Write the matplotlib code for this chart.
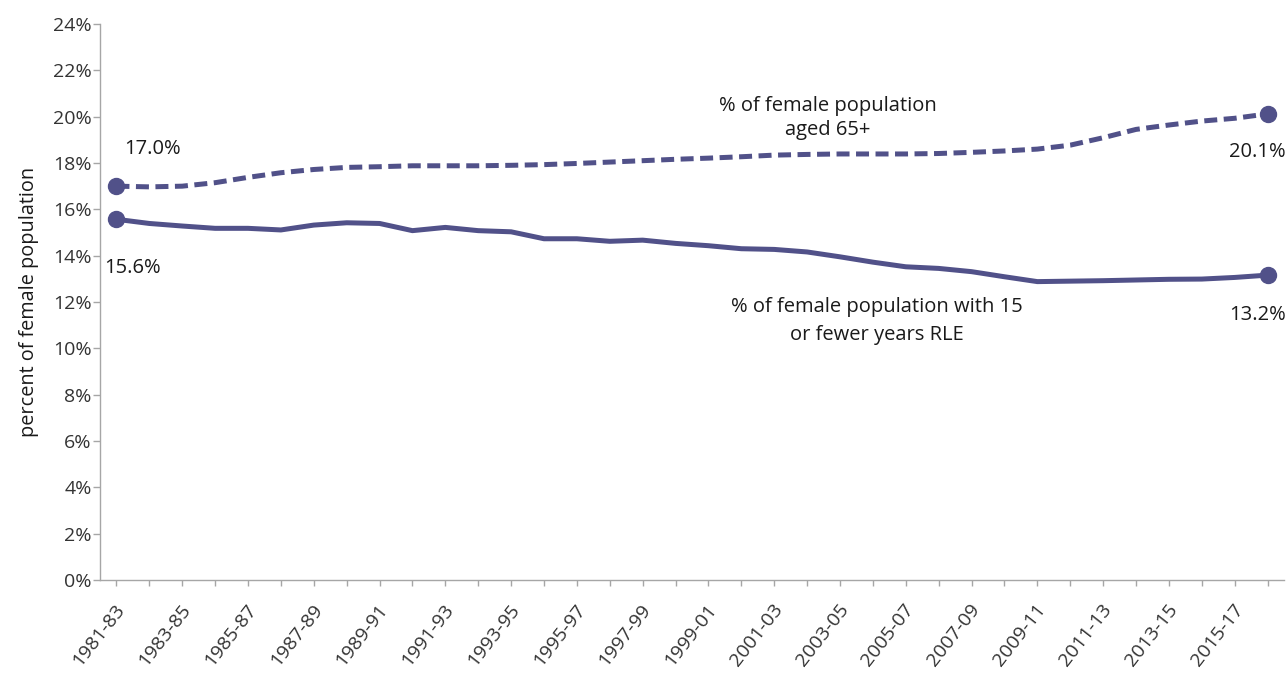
import matplotlib
matplotlib.use("Agg")
import matplotlib.pyplot as plt
from matplotlib.transforms import ScaledTranslation

plt.rcParams['font.family'] = ['Open Sans', 'DejaVu Sans']

periods = [f"{y}-{str(y + 2)[-2:]}" for y in range(1981, 2017)]

aged65 = [17.0, 16.97, 17.0, 17.15, 17.38, 17.58, 17.72, 17.81, 17.84, 17.88,
          17.88, 17.88, 17.9, 17.93, 17.98, 18.04, 18.1, 18.16, 18.21, 18.27,
          18.34, 18.37, 18.39, 18.39, 18.39, 18.41, 18.46, 18.52, 18.6, 18.77,
          19.09, 19.45, 19.64, 19.81, 19.93, 20.12]

rle15 = [15.57, 15.39, 15.28, 15.18, 15.18, 15.11, 15.32, 15.42, 15.39, 15.08,
         15.22, 15.08, 15.03, 14.73, 14.73, 14.62, 14.67, 14.53, 14.43, 14.3,
         14.27, 14.16, 13.95, 13.72, 13.52, 13.45, 13.31, 13.09, 12.88, 12.9,
         12.92, 12.95, 12.98, 12.99, 13.06, 13.16]

color = '#515189'
text_color = '#1a1a1a'
axis_color = '#A6A6A6'

fig = plt.figure(figsize=(12.88, 6.73), dpi=100)
ax = fig.add_axes([100 / 1288, 93 / 673, 1184 / 1288, 556 / 673])

x = list(range(len(periods)))
ax.plot(x, aged65, color=color, lw=3.6, dashes=(2.6, 1.3), dash_capstyle='butt',
        zorder=3)
ax.plot(x, rle15, color=color, lw=3.6, solid_joinstyle='round', zorder=3)
ax.plot([x[0], x[-1]], [aged65[0], aged65[-1]], 'o', color=color, ms=11.5, zorder=4)
ax.plot([x[0], x[-1]], [rle15[0], rle15[-1]], 'o', color=color, ms=11.5, zorder=4)

ax.set_xlim(-0.5, len(periods) - 0.5)
ax.set_ylim(0, 24)
ax.set_yticks(range(0, 25, 2))
ax.set_yticklabels([f"{v}%" for v in range(0, 25, 2)])
ax.set_xticks(x)
ax.set_xticklabels([p if i % 2 == 0 else '' for i, p in enumerate(periods)],
                   rotation=52, ha='right', va='center', rotation_mode='anchor')

for s in ['top', 'right']:
    ax.spines[s].set_visible(False)
for s in ['left', 'bottom']:
    ax.spines[s].set_color(axis_color)
    ax.spines[s].set_linewidth(1.0)
ax.tick_params(axis='y', length=5, width=1, color=axis_color, labelsize=14,
               labelcolor='#333333', pad=1)
ax.tick_params(axis='x', length=4, width=1, color=axis_color, labelsize=14,
               labelcolor='#333333', pad=15)
offset = ScaledTranslation(5 / 100, 0, fig.dpi_scale_trans)
for lab in ax.get_xticklabels():
    lab.set_transform(lab.get_transform() + offset)
ax.set_ylabel('percent of female population', fontsize=14.3, color=text_color, labelpad=10)

fs = 14.5
ax.text(1.09, 18.62, f"{aged65[0]:.1f}%", ha='center', va='center', fontsize=fs, color=text_color)
ax.text(0.49, 13.45, f"{rle15[0]:.1f}%", ha='center', va='center', fontsize=fs, color=text_color)
ax.text(34.7, 18.47, f"{aged65[-1]:.1f}%", ha='center', va='center', fontsize=fs, color=text_color)
ax.text(34.7, 11.44, f"{rle15[-1]:.1f}%", ha='center', va='center', fontsize=fs, color=text_color)
ax.text(21.62, 20.46, "% of female population", ha='center', va='center', fontsize=fs, color=text_color)
ax.text(21.62, 19.42, "aged 65+", ha='center', va='center', fontsize=fs, color=text_color)
ax.text(23.11, 11.78, "% of female population with 15", ha='center', va='center', fontsize=fs, color=text_color)
ax.text(23.11, 10.57, "or fewer years RLE", ha='center', va='center', fontsize=fs, color=text_color)

fig.savefig('out.png', dpi=100)
